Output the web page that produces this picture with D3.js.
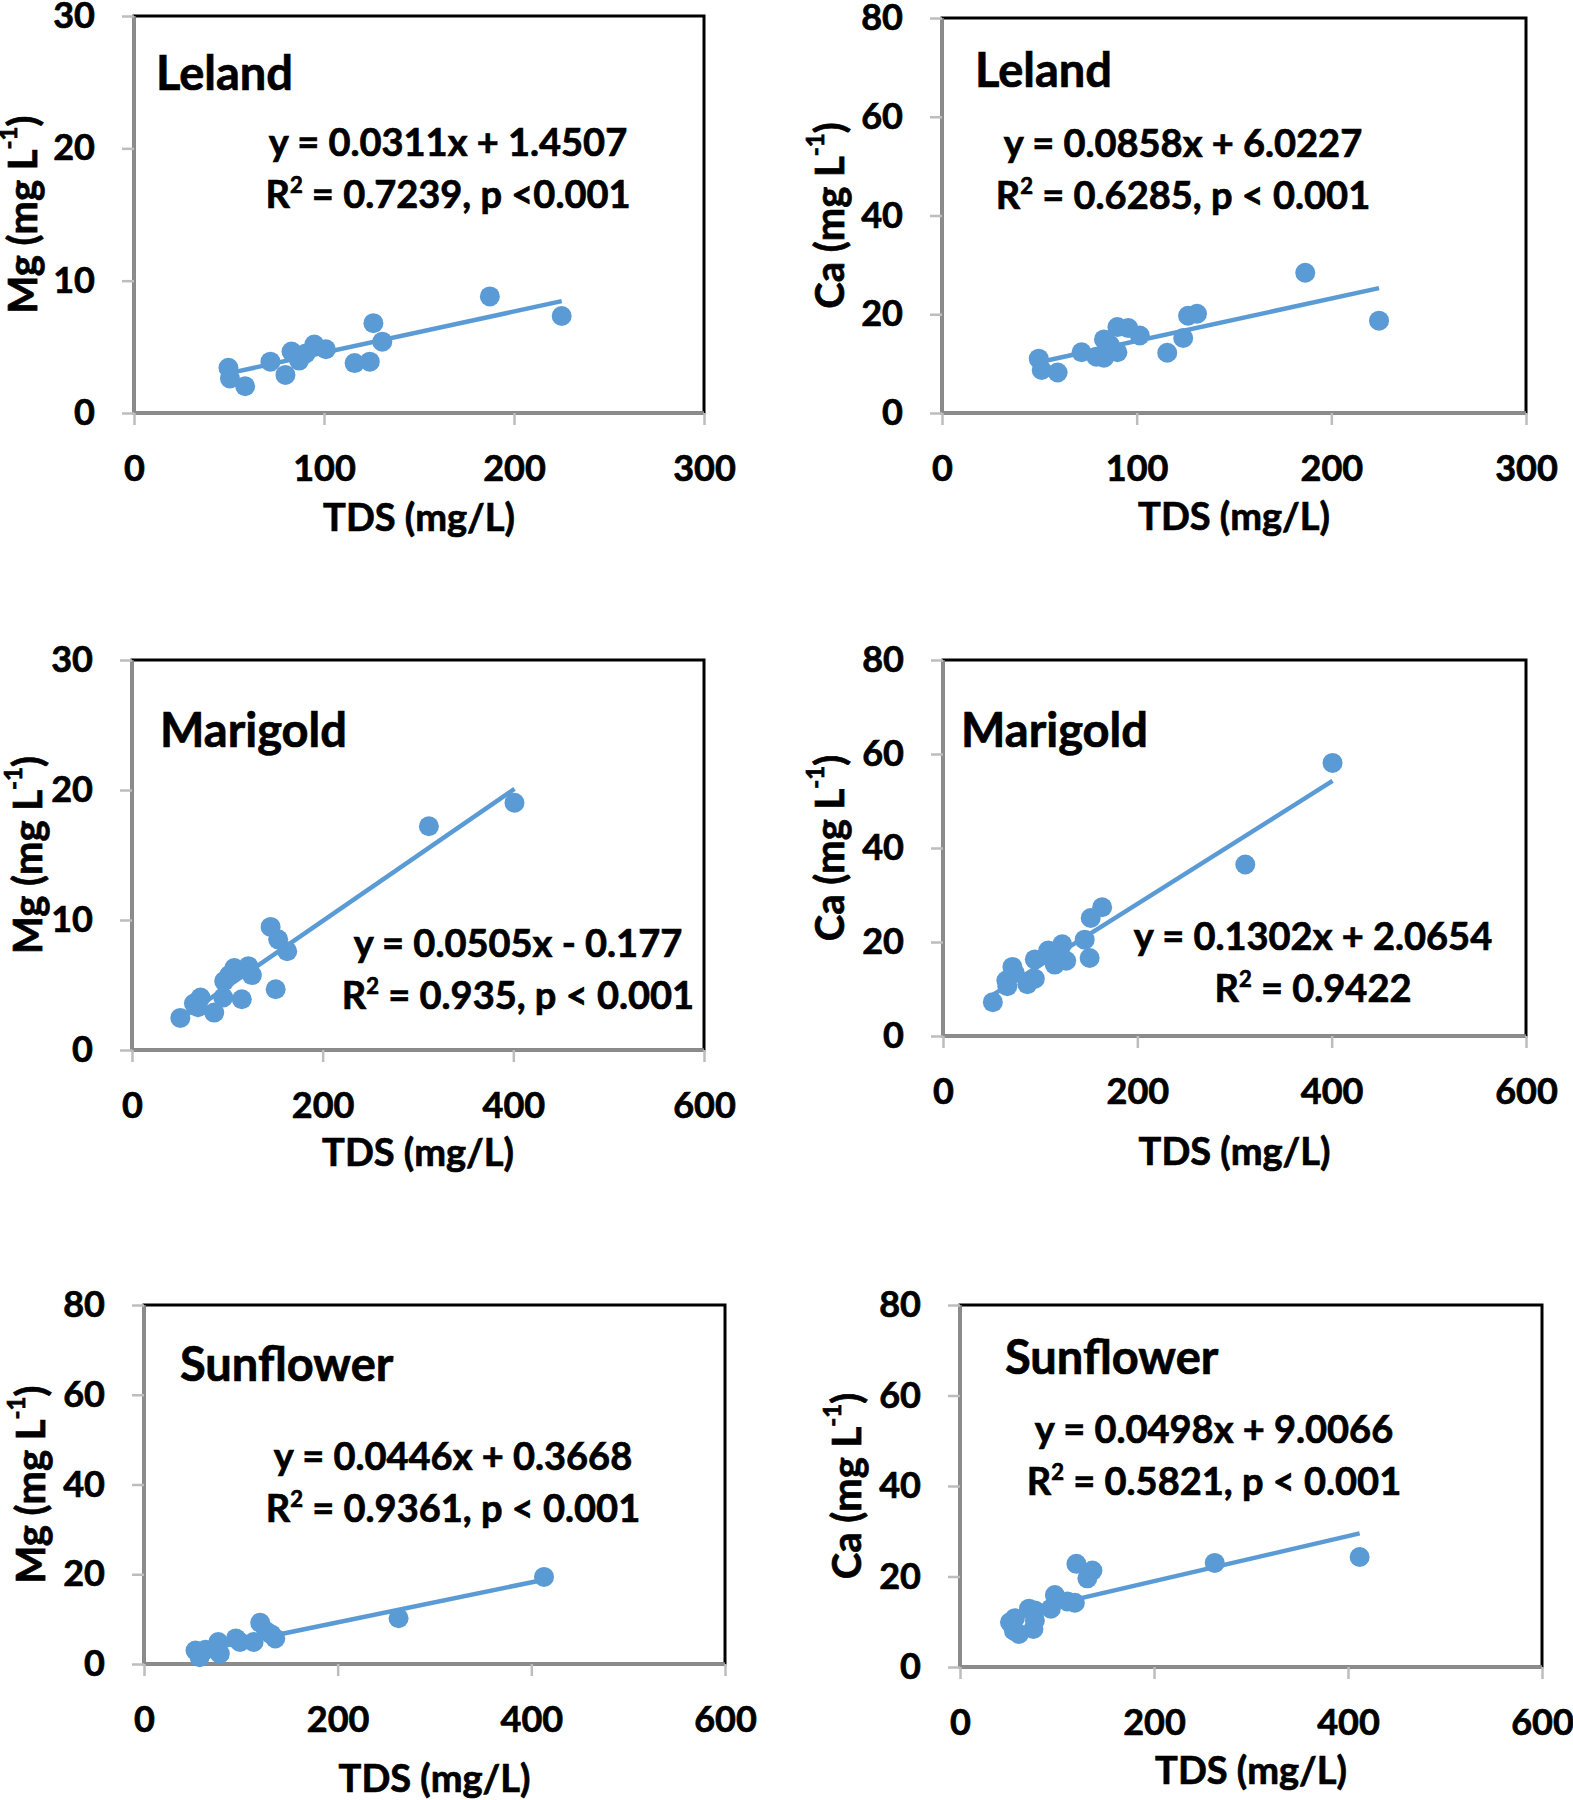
<!DOCTYPE html>
<html><head><meta charset="utf-8">
<script src="https://cdn.jsdelivr.net/npm/d3@7"></script>
<style>
body{margin:0;background:#fff}
svg text{font-family:Lato,'Open Sans',sans-serif;font-weight:700;fill:#000;stroke:#000;stroke-width:0.7px}
</style>
</head><body>
<svg id="chart" width="1573" height="1800"></svg>
<script>
// ---------- data ----------
const sites = ["Leland", "Leland", "Marigold", "Marigold", "Sunflower", "Sunflower"];
const elements = ["Mg", "Ca", "Mg", "Ca", "Mg", "Ca"];
const xTicks300 = [0, 100, 200, 300];
const xTicks600 = [0, 200, 400, 600];
const yTicks30 = [0, 10, 20, 30];
const yTicks80 = [0, 20, 40, 60, 80];

const lelandTdsMg = [49.7, 50.5, 58.5, 71.8, 79.7, 82.9, 86.9, 88.2, 90.4, 94.9, 101.0, 116.1, 124.1, 126.0, 130.7, 187.3, 225.1];
const lelandMg    = [3.42, 2.61, 2.02, 3.88, 2.88, 4.64, 3.96, 4.37, 4.50, 5.18, 4.82, 3.77, 3.88, 6.79, 5.39, 8.81, 7.33];

const lelandTdsCa = [49.7, 51.2, 59.4, 71.7, 79.3, 83.2, 83.2, 86.2, 90.1, 90.1, 95.7, 101.6, 115.7, 123.9, 126.4, 131.0, 186.6, 224.5];
const lelandCa    = [11.0, 8.7, 8.2, 12.3, 11.4, 14.9, 11.2, 13.8, 12.3, 17.4, 17.2, 15.7, 12.2, 15.2, 19.7, 20.1, 28.4, 18.7];

const marigoldTdsMg = [50.7, 65.0, 69.2, 71.9, 86.2, 95.7, 96.7, 102.0, 107.3, 115.2, 122.1, 125.8, 145.4, 150.7, 153.3, 162.8, 311.4, 401.2];
const marigoldMg    = [2.47, 3.57, 3.29, 4.04, 2.88, 4.04, 5.30, 5.76, 6.31, 3.90, 6.45, 5.76, 9.47, 4.67, 8.51, 7.60, 17.21, 19.02];

const marigoldTdsCa = [51.3, 65.2, 66.2, 71.4, 73.9, 86.8, 94.5, 94.5, 108.3, 115.0, 122.7, 126.8, 145.8, 150.9, 152.0, 163.8, 311.1, 400.9];
const marigoldCa    = [7.2, 11.8, 10.6, 14.7, 13.4, 11.0, 12.2, 16.3, 18.2, 15.2, 19.5, 16.0, 20.5, 16.6, 25.1, 27.4, 36.5, 58.1];

const sunflowerTdsMg = [53.2, 57.4, 63.6, 76.7, 78.3, 94.9, 99.1, 113.2, 120.0, 126.2, 131.5, 135.6, 262.9, 413.1];
const sunflowerMg    = [3.0, 1.5, 3.2, 4.9, 2.3, 5.7, 4.9, 4.9, 9.2, 7.3, 6.6, 5.7, 10.2, 19.4];

const sunflowerTdsCa = [51.5, 55.6, 56.6, 60.8, 71.1, 75.7, 77.2, 77.2, 93.7, 97.8, 110.7, 118.4, 120.0, 131.3, 136.5, 262.6, 412.0];
const sunflowerCa    = [9.9, 8.0, 10.8, 7.3, 12.9, 8.4, 12.5, 10.3, 12.9, 15.9, 14.5, 14.2, 22.8, 19.6, 21.3, 23.0, 24.3];

const slopes     = [0.0311, 0.0858, 0.0505, 0.1302, 0.0446, 0.0498];
const intercepts = [1.4507, 6.0227, -0.177, 2.0654, 0.3668, 9.0066];
const eqLines = ["y = 0.0311x + 1.4507", "y = 0.0858x + 6.0227", "y = 0.0505x - 0.177",
                 "y = 0.1302x + 2.0654", "y = 0.0446x + 0.3668", "y = 0.0498x + 9.0066"];
const r2Lines = [" = 0.7239, p <0.001", " = 0.6285, p < 0.001", " = 0.935, p < 0.001",
                 " = 0.9422", " = 0.9361, p < 0.001", " = 0.5821, p < 0.001"];
const xTitle = "TDS (mg/L)";

const tdsSeries = [lelandTdsMg, lelandTdsCa, marigoldTdsMg, marigoldTdsCa, sunflowerTdsMg, sunflowerTdsCa];
const valSeries = [lelandMg, lelandCa, marigoldMg, marigoldCa, sunflowerMg, sunflowerCa];
const xTickSets = [xTicks300, xTicks300, xTicks600, xTicks600, xTicks600, xTicks600];
const yTickSets = [yTicks30, yTicks80, yTicks30, yTicks80, yTicks80, yTicks80];

// ---------- layout ----------
const layout = [
  {l:134, r:704,  t:16,   b:413,  nameX:156,  nameY:90,   eqX:448,  eqY:156,  ytX:22,  xtDY:118},
  {l:942, r:1526, t:18,   b:413,  nameX:975,  nameY:87,   eqX:1183, eqY:157,  ytX:829, xtDY:117},
  {l:132, r:704,  t:660,  b:1050, nameX:160,  nameY:747,  eqX:518,  eqY:957,  ytX:27,  xtDY:116},
  {l:943, r:1526, t:660,  b:1036, nameX:961,  nameY:747,  eqX:1313, eqY:950,  ytX:829, xtDY:129},
  {l:144, r:725,  t:1305, b:1664, nameX:180,  nameY:1381, eqX:453,  eqY:1470, ytX:30,  xtDY:128},
  {l:960, r:1542, t:1305, b:1667, nameX:1005, nameY:1374, eqX:1214, eqY:1443, ytX:846, xtDY:117}
];
const BLUE = "#5B9BD5";

const svg = d3.select("#chart");
svg.append("rect").attr("width",1573).attr("height",1800).attr("fill","#fff");

layout.forEach((L, i) => {
  const xT = xTickSets[i], yT = yTickSets[i];
  const x = d3.scaleLinear().domain([xT[0], xT[xT.length-1]]).range([L.l, L.r]);
  const y = d3.scaleLinear().domain([yT[0], yT[yT.length-1]]).range([L.b, L.t]);
  const g = svg.append("g");

  // plot border (black)
  g.append("rect").attr("x", L.l).attr("y", L.t).attr("width", L.r - L.l).attr("height", L.b - L.t)
    .attr("fill", "none").attr("stroke", "#000").attr("stroke-width", 3);

  // axes
  const xAxis = d3.axisBottom(x).tickValues(xT).tickSize(12).tickPadding(30).tickFormat(d3.format("d"));
  const yAxis = d3.axisLeft(y).tickValues(yT).tickSize(12).tickPadding(27).tickFormat(d3.format("d"));
  const gx = g.append("g").attr("transform", `translate(0,${L.b})`).call(xAxis);
  const gy = g.append("g").attr("transform", `translate(${L.l},0)`).call(yAxis);
  [gx, gy].forEach(a => {
    a.select(".domain").attr("stroke", "#8c8c8c").attr("stroke-width", 3.5);
    a.selectAll(".tick line").attr("stroke", "#bdbdbd").attr("stroke-width", 2.5);
    a.selectAll(".tick text").attr("font-size", 36).attr("fill", "#000")
      .style("font-family", "Lato,'Open Sans',sans-serif").style("font-weight", 700);
  });
  gx.select(".domain").attr("d", `M${L.l},0H${L.r}`);
  gy.select(".domain").attr("d", `M0,${L.b}V${L.t}`);

  // points
  const pts = tdsSeries[i].map((t, k) => ({t, v: valSeries[i][k]}));
  g.append("g").selectAll("circle").data(pts).join("circle")
    .attr("cx", d => x(d.t)).attr("cy", d => y(d.v)).attr("r", 10).attr("fill", BLUE);

  // trendline
  const ext = d3.extent(tdsSeries[i]);
  const line = d3.line().x(d => x(d)).y(d => y(slopes[i] * d + intercepts[i]));
  g.append("path").datum(ext).attr("d", line).attr("stroke", BLUE).attr("stroke-width", 4.5).attr("fill", "none");

  // site name
  g.append("text").attr("x", L.nameX).attr("y", L.nameY).attr("font-size", 47).text(sites[i]);

  // equation
  g.append("text").attr("x", L.eqX).attr("y", L.eqY).attr("font-size", 38).attr("text-anchor", "middle").text(eqLines[i]);
  const r2 = g.append("text").attr("x", L.eqX).attr("y", L.eqY + 52).attr("font-size", 38).attr("text-anchor", "middle");
  r2.append("tspan").text("R");
  r2.append("tspan").attr("font-size", 22).attr("dy", -15).text("2");
  r2.append("tspan").attr("dy", 15).text(r2Lines[i]);

  // x title
  g.append("text").attr("x", (L.l + L.r) / 2).attr("y", L.b + L.xtDY).attr("font-size", 38)
    .attr("text-anchor", "middle").text(xTitle);

  // y title
  const cy = (L.t + L.b) / 2;
  const yt = g.append("text").attr("transform", `translate(${L.ytX},${cy}) rotate(-90)`)
    .attr("font-size", 40).attr("text-anchor", "middle").attr("dominant-baseline", "central");
  yt.append("tspan").text(elements[i] + " (mg L");
  yt.append("tspan").attr("font-size", 24).attr("dy", -15).text("-1");
  yt.append("tspan").attr("dy", 15).text(")");
});
</script>
</body></html>
